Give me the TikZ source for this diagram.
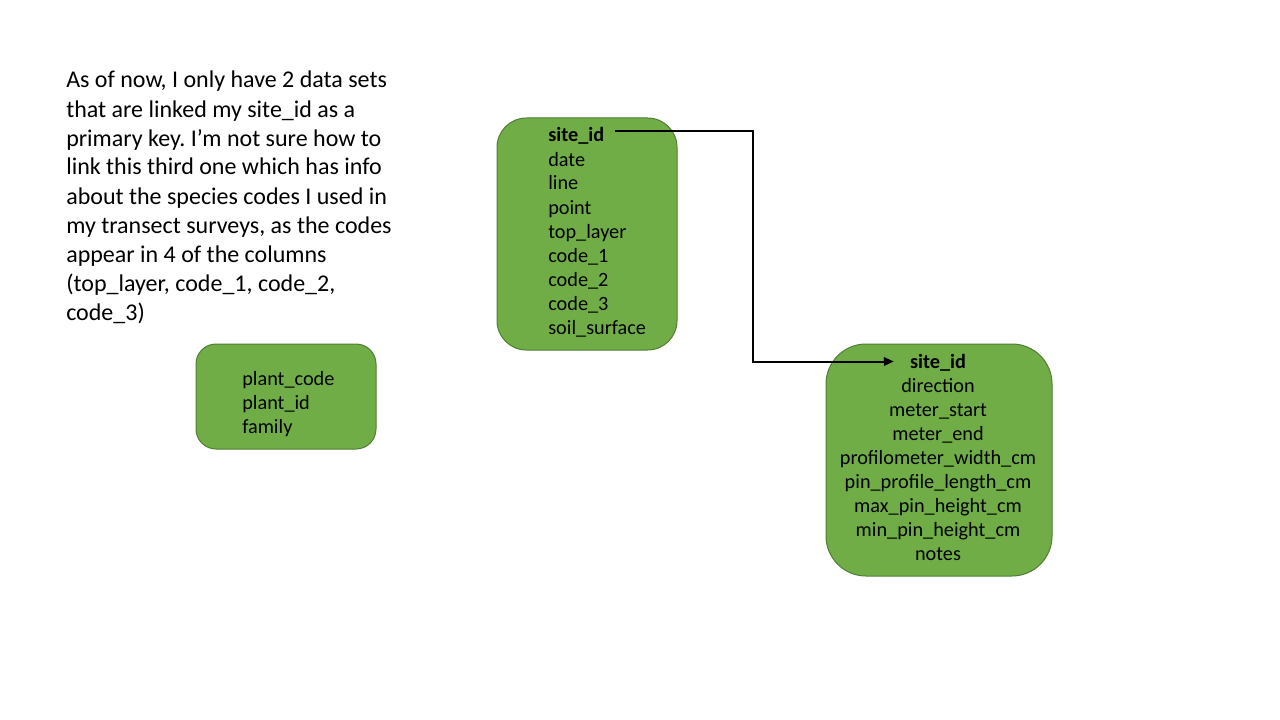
\documentclass[tikz,border=0pt]{standalone}
\usepackage{fontspec}
\setmainfont{Carlito}
\frenchspacing
\usetikzlibrary{arrows.meta,calc}
\definecolor{boxfill}{HTML}{70AD47}
\definecolor{boxline}{HTML}{507E32}
\begin{document}
\begin{tikzpicture}[x=0.75pt,y=-0.75pt,
  tbl/.style={draw=boxline, fill=boxfill, line width=0.75pt, inner sep=0pt},
  fld/.style={font=\fontsize{15.2}{18}\selectfont, inner sep=0pt, text=black},
  note/.style={font=\fontsize{18}{21.75}\selectfont, inner sep=0pt, align=left, text=black},
  link/.style={line width=1.5pt, -{Triangle[length=7.5pt,width=6.5pt]}}]
\useasboundingbox (0,0) rectangle (1280,720);
% tables
\node[tbl, minimum width=135pt, minimum height=174pt, rounded corners=22pt] (t1) at (587,234) {};
\node[tbl, minimum width=169.5pt, minimum height=174pt, rounded corners=30pt] (t2) at (939,460) {};
\node[tbl, minimum width=135pt, minimum height=78.75pt, rounded corners=15pt] (t3) at (286,396.5) {};
% table 1 fields (base anchor = baseline of last line)
\node[fld, anchor=base west, font=\fontsize{15.2}{18}\selectfont\bfseries] (k1) at (548,142) {site\_id};
\node[fld, anchor=base west, align=left] (f1) at (548,334) {date\\line\\point\\top\_layer\\code\_1\\code\_2\\code\_3\\soil\_surface};
% table 2 fields
\node[fld, anchor=base, font=\fontsize{15.2}{18}\selectfont\bfseries] (k2) at (938,368) {site\_id};
\node[fld, anchor=base, align=center] (f2) at (938,560) {direction\\meter\_start\\meter\_end\\profilometer\_width\_cm\\pin\_profile\_length\_cm\\max\_pin\_height\_cm\\min\_pin\_height\_cm\\notes};
% table 3 fields
\node[fld, anchor=base west, align=left] (f3) at (242,433) {plant\_code\\plant\_id\\family};
% note
\node[note, anchor=base west] (n) at (66,320) {As of now, I only have 2 data sets\\that are linked my site\_id as a\\primary key. I’m not sure how to\\link this third one which has info\\about the species codes I used in\\my transect surveys, as the codes\\appear in 4 of the columns\\(top\_layer, code\_1, code\_2,\\code\_3)};
% connector
\coordinate (a) at ($(k1.base east)+(10,-10.5)$);
\coordinate (b) at ($(k2.base west)+(-16,-6.5)$);
\coordinate (bend) at (753,0);
\draw[link] (a) -- (a -| bend) -- (bend |- b) -- (b);
\end{tikzpicture}
\end{document}
